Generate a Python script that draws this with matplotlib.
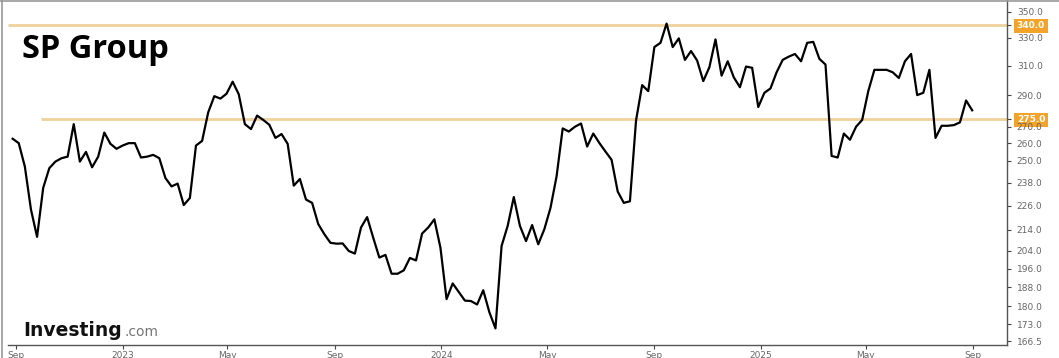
import pandas as pd
import matplotlib
matplotlib.use("Agg")
import matplotlib.pyplot as plt
import matplotlib.dates as mdates
from matplotlib.ticker import FixedLocator, NullLocator, FuncFormatter
from matplotlib.lines import Line2D

# --- data (weekly closes) ---
start_date = "2022-08-28"
prices = [
    262.8, 260.2, 246.8, 224.0, 210.6, 235.2, 245.9, 249.6, 251.5, 252.4,
    271.6, 249.6, 255.1, 246.4, 252.4, 266.5, 259.8, 256.9, 258.8, 260.2,
    260.2, 251.9, 252.4, 253.4, 251.5, 240.5, 236.0, 237.5, 226.3, 229.9,
    258.8, 261.5, 278.9, 289.3, 287.7, 290.9, 298.9, 290.5, 271.6, 268.6,
    276.9, 274.2, 271.2, 263.3, 265.6, 259.8, 236.4, 240.0, 229.1, 227.4,
    216.8, 211.9, 207.8, 207.4, 207.5, 204.0, 202.8, 215.1, 220.2, 210.2,
    201.0, 202.2, 193.8, 193.8, 195.3, 200.8, 199.7, 212.2, 215.1, 219.1,
    205.5, 183.0, 189.6, 186.0, 182.4, 182.2, 180.8, 186.7, 177.7, 171.3,
    206.3, 215.9, 230.4, 215.9, 208.6, 216.3, 207.1, 214.3, 224.8, 241.4,
    269.0, 267.1, 270.0, 272.0, 258.2, 265.9, 260.3, 255.3, 250.6, 233.3,
    227.4, 228.2, 273.8, 296.6, 292.6, 323.2, 326.3, 340.8, 323.2, 329.6,
    314.0, 320.3, 313.5, 299.3, 308.8, 328.8, 303.0, 313.0, 301.8, 295.2,
    309.3, 308.4, 282.3, 291.5, 294.4, 305.3, 314.0, 316.3, 318.2, 313.0,
    326.3, 327.0, 314.7, 310.7, 252.8, 251.9, 265.9, 262.2, 270.0, 274.2,
    292.6, 307.0, 307.0, 307.0, 305.3, 301.4, 313.0, 318.2, 290.0, 291.5,
    307.0, 263.3, 270.6, 270.6, 271.0, 272.7, 286.5, 280.2,
]
dates = pd.date_range(start_date, periods=len(prices), freq="7D")

y_ticks = [350, 340, 330, 310, 290, 275, 270, 260, 250, 238, 226, 214,
           204, 196, 188, 180, 173, 166.5]
levels = [340, 275]
level_starts = ["2022-08-23", "2022-09-30"]

title = "SP Group"

fig = plt.figure(figsize=(10.59, 3.58), dpi=100)
ax = fig.add_axes([0.0078, 0.0355, 0.9432, 0.9645])

ax.plot(dates, prices, color="black", linewidth=1.6, zorder=3)

# support / resistance levels
for lvl, st in zip(levels, level_starts):
    ax.hlines(lvl, pd.Timestamp(st), pd.Timestamp("2025-10-10"),
              color="#efd29c", linewidth=2, zorder=2)

ax.set_yscale("log")
ax.set_ylim(164.9, 359.4)
ax.set_xlim(pd.Timestamp("2022-08-23"), pd.Timestamp("2025-10-10"))

ax.yaxis.tick_right()
ax.yaxis.set_major_locator(FixedLocator(y_ticks))
ax.yaxis.set_minor_locator(NullLocator())
ax.yaxis.set_major_formatter(FuncFormatter(lambda v, p: f"{v:.1f}"))

ax.xaxis.set_major_locator(mdates.MonthLocator(bymonth=[1, 5, 9]))


def date_label(v, p):
    d = mdates.num2date(v)
    return str(d.year) if d.month == 1 else d.strftime("%b")


ax.xaxis.set_major_formatter(FuncFormatter(date_label))

ax.tick_params(axis="y", length=3, width=0.8, pad=4, labelsize=6.5,
               colors="#444444", labelcolor="#666666")
ax.tick_params(axis="x", length=3, width=0.8, pad=1, labelsize=6.5,
               colors="#444444", labelcolor="#666666")

for s in ["left", "top"]:
    ax.spines[s].set_visible(False)
for s in ["right", "bottom"]:
    ax.spines[s].set_color("#555555")
    ax.spines[s].set_linewidth(1)

# highlight the level labels
for lab, val in zip(ax.get_yticklabels(), y_ticks):
    if val in levels:
        lab.set_color("white")
        lab.set_fontweight("bold")
        lab.set_bbox(dict(facecolor="#f3a329", edgecolor="none", pad=1.8))

# title and watermark
fig.text(0.021, 0.838, title, fontsize=23.5, fontweight="bold",
         family="Open Sans", va="baseline", ha="left")
fig.text(0.022, 0.062, "Investing", fontsize=13.5, fontweight="bold",
         va="baseline", ha="left", color="#111111")
fig.text(0.118, 0.062, ".com", fontsize=10, va="baseline", ha="left",
         color="#777777")

# frame lines of the screenshot
fig.add_artist(Line2D([0.002, 0.002], [0, 1], transform=fig.transFigure,
                      color="#999999", linewidth=1.2))
fig.add_artist(Line2D([0, 1], [0.998, 0.998], transform=fig.transFigure,
                      color="#999999", linewidth=1.2))

fig.savefig("out.png", dpi=100)
